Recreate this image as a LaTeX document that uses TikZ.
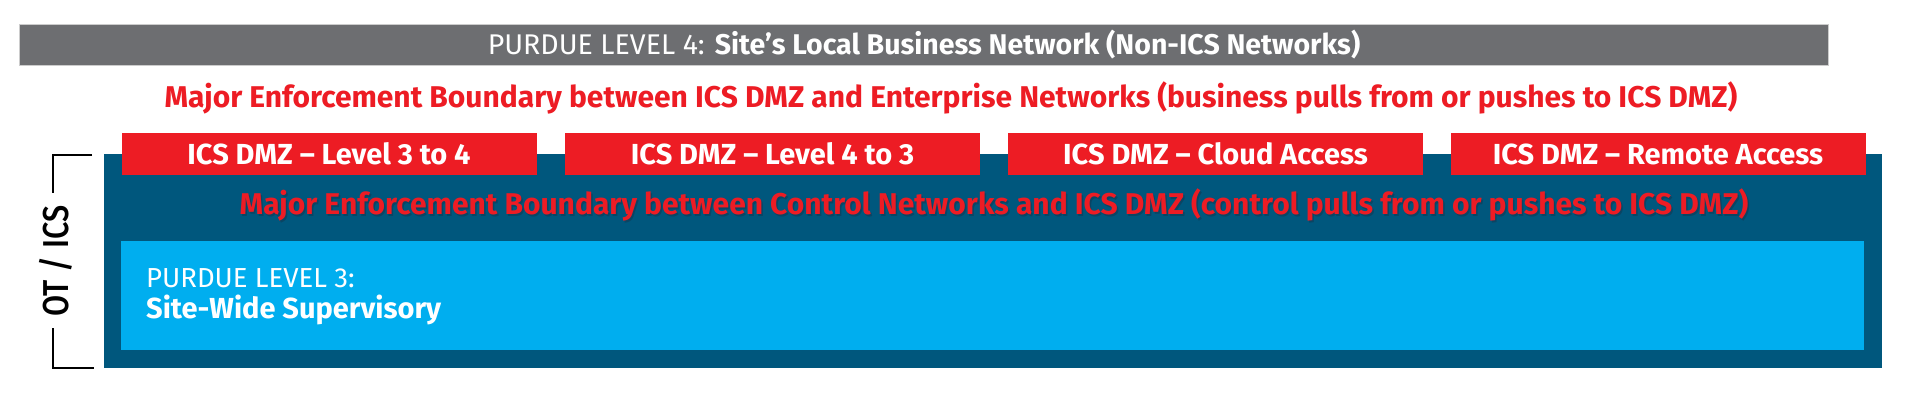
\documentclass[tikz,border=0pt]{standalone}
\usepackage{fontspec}
\setmainfont{Fira Sans}
\IfFontExistsTF{Fira Sans Medium}
  {\newfontfamily\labfont{Fira Sans Medium}[FakeStretch=0.85]}
  {\newfontfamily\labfont{Fira Sans}[FakeStretch=0.85, FakeBold=1.5]}
\definecolor{grayc}{HTML}{6D6E71}
\definecolor{redc}{HTML}{ED1C24}
\definecolor{darkc}{HTML}{00577D}
\definecolor{lightc}{HTML}{00AEEF}
\definecolor{shadc}{HTML}{1A2A40}
\tikzset{
  panel/.style={inner sep=0pt, outer sep=0pt, draw=none},
  dmzbox/.style={panel, fill=redc, minimum width=415pt, minimum height=42pt,
    text=white, font=\fontsize{29}{34}\selectfont\bfseries},
  redline/.style={text=redc, inner sep=0pt, font=\fontsize{30}{36}\selectfont\bfseries},
  bracketline/.style={draw=black, line width=1.5pt}
}
\begin{document}
\begin{tikzpicture}[x=1pt,y=-1pt]
\useasboundingbox (0,0) rectangle (1926,400);
\fill[white] (0,0) rectangle (1926,400);
% Level 4 bar
\node[panel, fill=grayc, draw=gray!40, line width=0.8pt, minimum width=1809pt, minimum height=41pt] (l4) at (923.5,44.5) {};
\node[text=white, inner sep=0pt, anchor=base] (l4text) at (924,54)
  {\fontsize{28.5}{34}\selectfont PURDUE LEVEL 4: \bfseries Site’s Local Business Network (Non-ICS Networks)};
% boundary 1
\node[redline] (b1) at (951,98) {Major Enforcement Boundary between ICS DMZ and Enterprise Networks (business pulls from or pushes to ICS DMZ)};
% OT/ICS zone
\node[panel, fill=darkc, minimum width=1778pt, minimum height=214pt] (ot) at (993,261) {};
\node[dmzbox] (d1) at (329,154) {ICS DMZ – Level 3 to 4};
\node[dmzbox] (d2) at (772.5,154) {ICS DMZ – Level 4 to 3};
\node[dmzbox] (d3) at (1215.5,154) {ICS DMZ – Cloud Access};
\node[dmzbox] (d4) at (1658,154) {ICS DMZ – Remote Access};
% boundary 2 with shadow
\node[redline, text=shadc, opacity=0.4] (b2s) at (995.5,206.5) {Major Enforcement Boundary between Control Networks and ICS DMZ (control pulls from or pushes to ICS DMZ)};
\node[redline] (b2) at (994,205) {Major Enforcement Boundary between Control Networks and ICS DMZ (control pulls from or pushes to ICS DMZ)};
% Level 3
\node[panel, fill=lightc, minimum width=1743pt, minimum height=109pt] (l3) at (992.5,295.5) {};
\node[text=white, inner sep=0pt, anchor=base west] (l3a) at (146,287) {\fontsize{27.5}{32}\selectfont PURDUE LEVEL 3:};
\node[text=white, inner sep=0pt, anchor=base west] (l3b) at (146,318) {\fontsize{29}{32}\selectfont\bfseries Site-Wide Supervisory};
% bracket
\node[rotate=90, inner sep=0pt, font=\labfont\fontsize{36}{40}\selectfont] (otlabel) at (56,261) {OT / ICS};
\coordinate (bt) at (92,155);
\coordinate (bb) at (94,368);
\draw[bracketline] (bt) -- (53,155) -- (53,193);
\draw[bracketline] (53,328) -- (53,368) -- (bb);
\end{tikzpicture}
\end{document}
